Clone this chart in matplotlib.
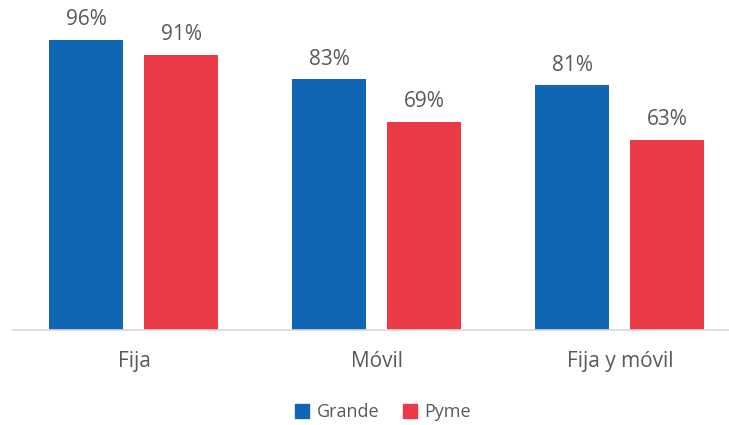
import numpy as np
import matplotlib.pyplot as plt
from matplotlib.patches import Patch

plt.rcParams['font.family'] = ['Open Sans', 'DejaVu Sans']

categories = ['Fija', 'Móvil', 'Fija y móvil']
grande = [96, 83, 81]
pyme = [91, 69, 63]
series_names = ['Grande', 'Pyme']

BLUE = '#1066B2'
RED = '#EA3A46'
TEXT = '#595959'

W, H = 729, 425
fig = plt.figure(figsize=(W / 100, H / 100), dpi=100)
# axes: baseline at y=330px, 3.02 px per percent, groups 243px wide
ax_left, ax_bottom = 12.5, H - 330
ax = fig.add_axes([ax_left / W, ax_bottom / H, 729 / W, 330 / H])
ax.set_xlim(-0.5, 2.5)
ax.set_ylim(0, 330 / 3.02)

x = np.arange(len(categories))
bw = 74 / 243
off = 47.5 / 243
b1 = ax.bar(x - off, grande, bw, color=BLUE)
b2 = ax.bar(x + off, pyme, bw, color=RED)

for bars, vals in ((b1, grande), (b2, pyme)):
    for b, v in zip(bars, vals):
        ax.annotate(f'{v}%', (b.get_x() + b.get_width() / 2, v),
                    xytext=(0, 7), textcoords='offset points',
                    ha='center', va='bottom', fontsize=15, color=TEXT)

for s in ['top', 'right', 'left']:
    ax.spines[s].set_visible(False)
ax.spines['bottom'].set_color('#D9D9D9')
ax.spines['bottom'].set_linewidth(1.2)
ax.set_yticks([])
ax.set_xticks(x)
ax.set_xticklabels(categories, fontsize=15, color=TEXT)
ax.tick_params(axis='x', length=0, pad=15)

handles = [Patch(color=BLUE), Patch(color=RED)]
fig.legend(handles, series_names, loc='center', bbox_to_anchor=(383 / W, 1 - 412 / H),
           ncol=2, frameon=False, fontsize=13, labelcolor=TEXT,
           handlelength=0.8, handleheight=0.8, handletextpad=0.4, columnspacing=1.3)

fig.savefig('out.png', dpi=100)
